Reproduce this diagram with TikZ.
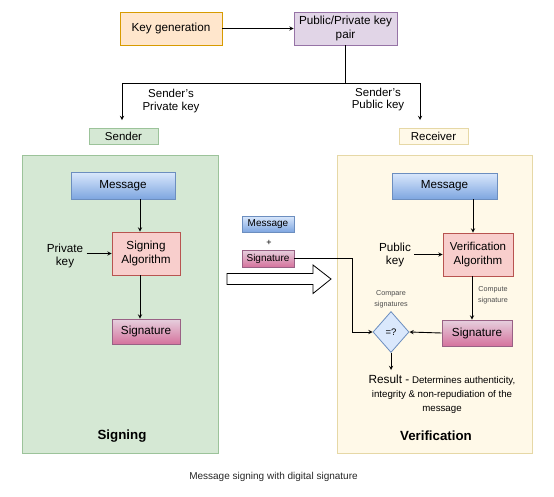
\documentclass[tikz,border=0pt]{standalone}
\usepackage{fontspec}
\setmainfont{Liberation Sans}
\usetikzlibrary{shapes.geometric,arrows}

\definecolor{genfill}{HTML}{FFE6CC}
\definecolor{genline}{HTML}{D79B00}
\definecolor{pairfill}{HTML}{E1D5E7}
\definecolor{pairline}{HTML}{9673A6}
\definecolor{sndfill}{HTML}{D5E8D4}
\definecolor{sndline}{HTML}{9CC39A}
\definecolor{rcvfill}{HTML}{FFF9E8}
\definecolor{rcvline}{HTML}{E6D8A6}
\definecolor{msgtop}{HTML}{DAE8FC}
\definecolor{msgbot}{HTML}{7EA6E0}
\definecolor{msgline}{HTML}{6C8EBF}
\definecolor{sigtop}{HTML}{E6D0DE}
\definecolor{sigbot}{HTML}{D5739D}
\definecolor{sigline}{HTML}{996185}
\definecolor{algfill}{HTML}{F8CECC}
\definecolor{algline}{HTML}{B85450}

\begin{document}
\begin{tikzpicture}[x=1pt,y=-1pt,>=stealth]
                \tikzstyle{box}= [draw, rectangle, inner sep=0pt, align=center, line width=0.8pt, font=\fontsize{11.7}{13.5}\selectfont]
                \tikzstyle{lbl}= [align=center, font=\fontsize{11.5}{12.5}\selectfont]
                \tikzstyle{tiny}= [align=center, font=\fontsize{7.2}{11}\selectfont, text=black!70]
                \tikzstyle{msg}= [box, top color=msgtop, bottom color=msgbot, draw=msgline]
                \tikzstyle{sig}= [box, top color=sigtop, bottom color=sigbot, draw=sigline]
                \tikzstyle{alg}= [box, fill=algfill, draw=algline]
                \tikzstyle{title}= [font=\fontsize{13.3}{15}\selectfont\bfseries]
                \tikzstyle{link}= [->, line width=0.9pt]
                \useasboundingbox (0,0) rectangle (554,496);

                \node (gen) [box, fill=genfill, draw=genline, minimum width=102pt, minimum height=33pt] at (171,28.5) {Key generation};
                \node (pair) [box, fill=pairfill, draw=pairline, minimum width=103pt, minimum height=33pt] at (345.5,28.5) {Public/Private key\\pair};
                \node (privlbl) [lbl] at (171,101) {Sender's\\Private key};
                \node (publbl) [lbl] at (378,99.5) {Sender's\\Public key};
                \node (snd) [box, fill=sndfill, draw=sndline, minimum width=69pt, minimum height=16pt, font=\fontsize{11.5}{13}\selectfont] at (123.5,136) {Sender};
                \node (rcv) [box, fill=rcvfill, draw=rcvline, minimum width=69pt, minimum height=16pt, font=\fontsize{11.5}{13}\selectfont] at (433.5,136) {Receiver};
                \coordinate (privEnd) at (122,120);
                \coordinate (pubEnd) at (420,120);

                % signing side
                \node (signbox) [box, fill=sndfill, draw=sndline, minimum width=196pt, minimum height=298pt] at (120,304) {};
                \node (msgL) [msg, minimum width=104pt, minimum height=27pt] at (123,185.5) {Message};
                \node (algL) [alg, minimum width=68pt, minimum height=43pt] at (146,253.5) {Signing\\Algorithm};
                \node (sigL) [sig, minimum width=68pt, minimum height=25pt] at (146,331.5) {Signature};
                \node (pk) [lbl, font=\fontsize{11.7}{13}\selectfont] at (65,256) {Private\\key};
                \node (signlbl) [title] at (122,436) {Signing};

                % verification side
                \node (verbox) [box, fill=rcvfill, draw=rcvline, minimum width=195pt, minimum height=298pt] at (434.5,304) {};
                \node (msgR) [msg, minimum width=105pt, minimum height=26pt] at (444.5,186) {Message};
                \node (algR) [alg, minimum width=70pt, minimum height=43pt, font=\fontsize{11.5}{13.5}\selectfont] at (478,254.5) {Verification\\Algorithm};
                \node (sigR) [sig, minimum width=70pt, minimum height=26pt] at (477,333) {Signature};
                \node (pubk) [lbl, font=\fontsize{11.7}{13}\selectfont] at (395,255) {Public\\key};
                \node (cmpt) [tiny] at (493,295) {Compute\\signature};
                \node (cmp) [diamond, draw=msgline, fill=msgtop, line width=0.8pt, minimum width=36pt, minimum height=41pt, inner sep=0pt, font=\fontsize{9.5}{11}\selectfont] at (391,332) {=?};
                \node (cmplbl) [tiny] at (391,299) {Compare\\signatures};
                \coordinate (resTop) at (391,370);
                \node (res) [align=center, font=\fontsize{9.7}{14}\selectfont] at (442,394) {{\fontsize{11.8}{14}\selectfont Result -} Determines authenticity,\\integrity \& non-repudiation of the\\message};
                \node (verlbl) [title] at (436,436) {Verification};

                % sent data
                \node (msgM) [msg, minimum width=52pt, minimum height=16pt, font=\fontsize{10}{12}\selectfont] at (268,224) {Message};
                \node (plus) [font=\fontsize{9}{10}\selectfont] at (269,243) {+};
                \node (sigM) [sig, minimum width=52pt, minimum height=17pt, font=\fontsize{10}{12}\selectfont] at (268,258.5) {Signature};
                \draw [line width=0.8pt, fill=white] (227,273.5) -- (313,273.5) -- (313,265) -- (331,279) -- (313,293.5) -- (313,284.5) -- (227,284.5) -- cycle;

                \node (cap) [font=\fontsize{10}{12}\selectfont, text=black!85] at (273.5,477) {Message signing with digital signature};

                \draw [link] (gen) -- (pair);
                \draw [line width=0.9pt] (pair.south) -- ++(0,38) coordinate (split);
                \draw [link] (split) -| (privEnd);
                \draw [link] (split) -| (pubEnd);
                \draw [link] ([xshift=-6pt]algL.north |- msgL.south) -- ([xshift=-6pt]algL.north);
                \draw [link] ([xshift=-6pt]sigL.north |- algL.south) -- ([xshift=-6pt]sigL.north);
                \draw [link] (pk.east |- algL.west) -- (algL.west);
                \draw [link] ([xshift=-5pt]algR.north |- msgR.south) -- ([xshift=-5pt]algR.north);
                \draw [link] ([xshift=-5pt]sigR.north |- algR.south) -- ([xshift=-5pt]sigR.north);
                \draw [link] (pubk.east |- algR.west) -- (algR.west);
                \draw [link] (sigR.west) -- (cmp.east);
                \draw [link] (sigM.east) -| ([xshift=-20pt]cmp.west) -- (cmp.west);
                \draw [link] (cmp.south) -- (resTop);
\end{tikzpicture}
\end{document}
